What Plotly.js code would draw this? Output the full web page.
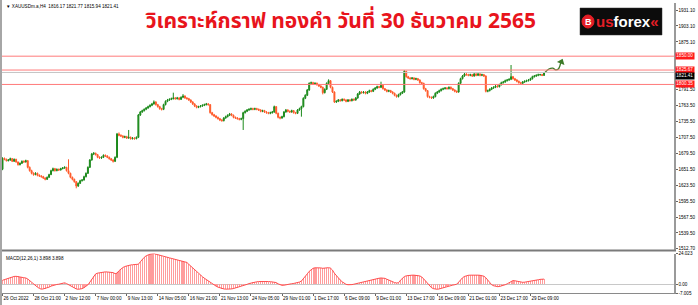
<!DOCTYPE html>
<html>
<head>
<meta charset="utf-8">
<script src="https://cdn.plot.ly/plotly-3.0.1.min.js"></script>
<style>
html,body{margin:0;padding:0;background:#fff;}
#chart{width:698px;height:305px;}
</style>
</head>
<body>
<div id="chart"></div>
<script>
// ---------- DATA ----------
const open = [
1651.3,1670.6,1668.9,1666.5,1667.7,1670.0,1665.4,1668.9,1664.2,1659.5,
1661.9,1665.4,1664.2,1666.5,1654.8,1649.0,1644.3,1642.0,1644.3,1640.8,
1639.6,1638.4,1636.1,1633.8,1637.3,1642.0,1649.0,1652.5,1649.0,1651.3,
1650.1,1652.5,1653.7,1654.8,1649.0,1644.3,1637.3,1633.8,1629.7,1622.0,
1626.7,1631.4,1632.6,1638.4,1644.3,1654.8,1667.7,1678.2,1679.4,1677.1,
1672.4,1671.2,1672.4,1675.9,1674.7,1672.4,1670.0,1667.7,1665.4,1672.4,
1713.4,1711.0,1709.9,1707.5,1708.7,1706.3,1707.5,1705.2,1706.3,1705.2,
1707.5,1746.7,1752.0,1754.3,1756.7,1759.0,1761.4,1763.7,1766.1,1769.6,
1764.9,1761.4,1757.9,1756.7,1764.9,1770.7,1773.1,1774.2,1775.4,1776.6,
1775.4,1776.6,1774.2,1777.8,1780.1,1776.6,1775.4,1773.1,1769.6,1766.1,
1762.5,1760.2,1761.4,1762.5,1763.7,1764.9,1766.1,1764.9,1750.8,1747.3,
1745.0,1742.6,1740.3,1737.9,1736.8,1741.5,1743.8,1746.2,1748.5,1746.2,
1742.6,1741.5,1740.3,1739.1,1740.3,1750.8,1753.2,1755.5,1756.7,1757.9,
1756.7,1757.9,1756.7,1755.5,1753.2,1754.3,1752.0,1750.8,1749.7,1750.8,
1752.0,1761.4,1749.7,1742.6,1741.5,1743.8,1752.0,1755.5,1753.2,1752.0,
1754.3,1750.8,1749.7,1755.5,1757.9,1761.4,1776.0,1781.3,1790.6,1802.3,
1803.5,1801.2,1802.3,1800.0,1797.6,1795.3,1785.9,1791.8,1802.3,1807.0,
1795.3,1787.1,1769.6,1770.7,1773.1,1771.9,1774.2,1773.1,1770.7,1773.1,
1771.9,1774.2,1773.1,1776.6,1783.6,1787.1,1785.9,1787.1,1784.8,1787.1,
1789.5,1788.3,1791.8,1794.1,1796.5,1795.3,1798.8,1793.0,1790.6,1788.3,
1789.5,1787.1,1784.8,1781.3,1779.0,1782.4,1784.8,1787.1,1823.4,1814.0,
1811.7,1810.5,1811.7,1809.4,1810.5,1808.2,1803.5,1802.3,1793.0,1789.5,
1779.0,1777.8,1776.6,1779.0,1784.8,1787.1,1789.5,1791.8,1793.0,1794.1,
1793.0,1795.3,1793.0,1790.6,1788.3,1787.1,1802.3,1810.5,1815.2,1818.7,
1817.5,1816.4,1817.5,1815.2,1818.7,1816.4,1818.7,1816.4,1817.5,1815.2,
1788.3,1789.5,1791.8,1794.1,1795.3,1797.6,1796.5,1800.0,1803.5,1804.7,
1807.0,1808.2,1809.4,1814.0,1810.5,1808.2,1805.9,1803.5,1802.3,1804.7,
1805.9,1807.0,1808.2,1810.5,1814.0,1815.2,1816.4,1817.5,1817.8,1816.17
];
const high = [
1672.4,1672.0,1670.1,1669.4,1671.8,1671.2,1670.3,1669.8,1665.1,1663.4,
1666.9,1667.0,1668.2,1667.4,1656.3,1650.6,1645.9,1646.2,1645.5,1642.4,
1641.0,1639.8,1637.2,1638.7,1643.5,1650.6,1654.3,1653.8,1652.9,1652.6,
1654.0,1655.3,1656.6,1655.7,1668.9,1645.4,1638.5,1635.0,1630.8,1628.3,
1632.9,1634.2,1640.1,1645.8,1656.4,1669.3,1680.1,1681.6,1680.7,1678.3,
1674.1,1674.0,1677.5,1677.4,1676.0,1673.6,1671.2,1668.9,1674.0,1715.2,
1716.1,1712.8,1711.2,1710.4,1710.1,1720.4,1708.9,1707.9,1707.6,1709.1,
1748.5,1753.8,1756.0,1758.3,1760.8,1763.1,1765.5,1767.9,1772.3,1770.8,
1766.2,1762.8,1759.3,1766.5,1772.4,1774.9,1776.0,1777.3,1785.9,1778.2,
1778.5,1777.9,1779.5,1783.4,1781.2,1778.1,1776.8,1774.2,1770.9,1767.4,
1763.8,1763.0,1764.2,1765.4,1766.6,1767.9,1767.6,1765.8,1752.2,1748.7,
1746.3,1743.9,1741.6,1739.4,1743.0,1745.6,1747.9,1750.3,1749.8,1747.4,
1744.0,1742.9,1741.7,1742.0,1752.4,1755.0,1757.2,1758.5,1759.7,1759.4,
1759.6,1759.3,1758.0,1756.8,1756.0,1755.7,1753.4,1752.2,1752.5,1753.8,
1763.2,1762.3,1750.9,1744.1,1745.4,1753.7,1757.3,1756.8,1754.6,1756.0,
1755.5,1752.2,1757.1,1759.6,1763.0,1777.8,1783.1,1792.4,1804.0,1805.4,
1805.0,1804.1,1803.8,1801.4,1799.0,1796.5,1793.4,1804.0,1809.4,1808.1,
1796.6,1788.2,1772.5,1774.8,1774.6,1775.9,1775.8,1774.3,1774.8,1774.5,
1775.9,1775.7,1778.2,1785.3,1788.9,1788.6,1788.8,1788.3,1788.7,1791.2,
1790.9,1793.5,1795.8,1798.2,1797.9,1805.2,1799.9,1794.2,1791.9,1791.2,
1790.8,1788.4,1786.0,1782.6,1784.1,1786.5,1788.9,1825.3,1824.2,1815.4,
1813.1,1813.4,1813.0,1812.2,1811.8,1809.3,1805.0,1803.4,1794.3,1790.6,
1780.5,1779.3,1780.7,1786.5,1788.9,1791.2,1793.5,1794.8,1795.9,1795.7,
1797.0,1796.8,1794.3,1791.9,1789.8,1804.1,1812.2,1817.0,1820.5,1820.2,
1819.0,1819.2,1818.9,1820.4,1820.1,1820.5,1820.0,1819.2,1818.8,1816.3,
1791.3,1793.5,1795.9,1797.1,1799.3,1799.1,1801.7,1805.2,1806.5,1808.8,
1810.0,1811.2,1834.5,1815.3,1811.9,1809.6,1807.2,1805.0,1806.4,1807.6,
1808.8,1810.0,1812.2,1815.7,1817.0,1818.1,1819.3,1819.0,1818.9,1821.77
];
const low = [
1649.8,1667.2,1665.0,1665.2,1666.4,1664.1,1664.6,1662.9,1657.8,1658.2,
1660.8,1662.7,1663.1,1653.0,1647.2,1642.5,1640.1,1640.9,1639.0,1637.9,
1636.7,1634.4,1632.0,1632.6,1636.1,1641.2,1647.6,1647.3,1647.9,1648.5,
1649.2,1651.4,1652.3,1647.4,1642.6,1635.6,1631.9,1627.8,1618.0,1620.4,
1625.5,1629.8,1631.5,1637.0,1643.1,1653.6,1666.5,1676.3,1675.5,1670.8,
1669.5,1669.6,1671.1,1673.0,1670.9,1668.3,1666.0,1663.2,1664.1,1671.0,
1709.3,1708.1,1705.8,1706.0,1704.6,1705.0,1703.5,1703.7,1703.4,1704.0,
1706.2,1745.1,1750.6,1752.9,1755.2,1757.6,1760.0,1762.2,1765.0,1763.2,
1759.7,1756.0,1754.6,1755.3,1763.6,1769.2,1771.5,1772.8,1773.9,1773.6,
1773.9,1772.5,1773.0,1776.3,1775.0,1773.7,1771.4,1767.8,1764.3,1760.6,
1758.4,1758.7,1760.0,1761.1,1762.3,1763.5,1763.2,1749.0,1745.6,1743.1,
1740.8,1738.5,1736.0,1734.9,1735.4,1740.1,1742.5,1744.8,1744.6,1740.9,
1739.8,1738.6,1737.2,1737.6,1720.4,1749.3,1751.8,1754.0,1755.1,1755.0,
1755.2,1755.0,1753.8,1751.5,1751.6,1750.3,1749.0,1748.0,1748.1,1749.2,
1750.6,1748.0,1740.8,1739.1,1740.0,1742.5,1750.6,1751.4,1750.3,1750.7,
1749.1,1748.0,1748.4,1754.2,1743.8,1760.1,1774.6,1780.0,1789.2,1800.6,
1799.5,1799.8,1798.3,1796.0,1793.7,1782.9,1784.6,1790.5,1801.0,1793.6,
1785.3,1767.8,1767.9,1769.3,1770.2,1770.6,1771.4,1769.0,1769.4,1770.3,
1770.5,1771.5,1771.8,1775.3,1782.2,1784.2,1784.4,1783.0,1783.4,1785.8,
1786.6,1787.0,1790.4,1792.8,1793.6,1794.0,1791.3,1788.9,1786.5,1786.8,
1785.4,1783.0,1779.6,1777.2,1777.6,1781.0,1783.5,1785.8,1812.3,1810.0,
1808.8,1809.1,1807.7,1807.9,1806.5,1801.8,1800.6,1791.2,1787.7,1777.1,
1776.0,1774.8,1775.2,1777.7,1783.4,1785.8,1788.1,1790.3,1791.5,1791.3,
1791.6,1791.2,1788.9,1786.5,1785.3,1785.9,1801.0,1809.1,1813.9,1815.8,
1814.7,1814.8,1813.5,1813.9,1814.7,1815.0,1814.6,1814.9,1813.5,1786.4,
1786.6,1788.1,1790.4,1792.6,1793.9,1794.8,1795.1,1798.6,1802.0,1803.3,
1805.5,1806.7,1808.0,1808.8,1806.4,1804.1,1801.8,1800.6,1801.0,1803.2,
1804.4,1805.6,1806.9,1809.0,1812.5,1813.7,1814.8,1815.6,1815.0,1815.94
];
const close = [
1670.6,1668.9,1666.5,1667.7,1670.0,1665.4,1668.9,1664.2,1659.5,1661.9,
1665.4,1664.2,1666.5,1654.8,1649.0,1644.3,1642.0,1644.3,1640.8,1639.6,
1638.4,1636.1,1633.8,1637.3,1642.0,1649.0,1652.5,1649.0,1651.3,1650.1,
1652.5,1653.7,1654.8,1649.0,1644.3,1637.3,1633.8,1629.7,1622.0,1626.7,
1631.4,1632.6,1638.4,1644.3,1654.8,1667.7,1678.2,1679.4,1677.1,1672.4,
1671.2,1672.4,1675.9,1674.7,1672.4,1670.0,1667.7,1665.4,1672.4,1713.4,
1711.0,1709.9,1707.5,1708.7,1706.3,1707.5,1705.2,1706.3,1705.2,1707.5,
1746.7,1752.0,1754.3,1756.7,1759.0,1761.4,1763.7,1766.1,1769.6,1764.9,
1761.4,1757.9,1756.7,1764.9,1770.7,1773.1,1774.2,1775.4,1776.6,1775.4,
1776.6,1774.2,1777.8,1780.1,1776.6,1775.4,1773.1,1769.6,1766.1,1762.5,
1760.2,1761.4,1762.5,1763.7,1764.9,1766.1,1764.9,1750.8,1747.3,1745.0,
1742.6,1740.3,1737.9,1736.8,1741.5,1743.8,1746.2,1748.5,1746.2,1742.6,
1741.5,1740.3,1739.1,1740.3,1750.8,1753.2,1755.5,1756.7,1757.9,1756.7,
1757.9,1756.7,1755.5,1753.2,1754.3,1752.0,1750.8,1749.7,1750.8,1752.0,
1761.4,1749.7,1742.6,1741.5,1743.8,1752.0,1755.5,1753.2,1752.0,1754.3,
1750.8,1749.7,1755.5,1757.9,1761.4,1776.0,1781.3,1790.6,1802.3,1803.5,
1801.2,1802.3,1800.0,1797.6,1795.3,1785.9,1791.8,1802.3,1807.0,1795.3,
1787.1,1769.6,1770.7,1773.1,1771.9,1774.2,1773.1,1770.7,1773.1,1771.9,
1774.2,1773.1,1776.6,1783.6,1787.1,1785.9,1787.1,1784.8,1787.1,1789.5,
1788.3,1791.8,1794.1,1796.5,1795.3,1798.8,1793.0,1790.6,1788.3,1789.5,
1787.1,1784.8,1781.3,1779.0,1782.4,1784.8,1787.1,1823.4,1814.0,1811.7,
1810.5,1811.7,1809.4,1810.5,1808.2,1803.5,1802.3,1793.0,1789.5,1779.0,
1777.8,1776.6,1779.0,1784.8,1787.1,1789.5,1791.8,1793.0,1794.1,1793.0,
1795.3,1793.0,1790.6,1788.3,1787.1,1802.3,1810.5,1815.2,1818.7,1817.5,
1816.4,1817.5,1815.2,1818.7,1816.4,1818.7,1816.4,1817.5,1815.2,1788.3,
1789.5,1791.8,1794.1,1795.3,1797.6,1796.5,1800.0,1803.5,1804.7,1807.0,
1808.2,1809.4,1814.0,1810.5,1808.2,1805.9,1803.5,1802.3,1804.7,1805.9,
1807.0,1808.2,1810.5,1814.0,1815.2,1816.4,1817.5,1817.8,1816.17,1821.41
];
const macd = [
3.0,3.6,4.2,4.8,5.3,5.8,6.0,6.1,6.0,5.6,
5.3,5.0,4.8,4.0,2.6,1.2,0.0,-1.2,-2.4,-3.4,
-4.0,-3.8,-3.5,-3.0,-2.4,-1.6,-1.0,-0.6,-0.3,-0.1,
0.3,0.8,1.0,0.4,-0.5,-1.4,-2.4,-3.2,-3.8,-4.1,
-4.0,-3.6,-2.8,-1.8,-0.6,1.5,4.0,6.5,8.0,8.6,
9.0,9.3,9.5,9.6,9.5,9.4,9.3,9.0,8.2,8.6,
10.5,12.0,13.0,13.8,14.4,14.8,15.0,15.2,15.3,15.2,
15.6,17.5,19.5,21.0,22.2,23.0,23.5,23.8,24.0,23.5,
23.0,22.5,22.0,21.5,21.2,21.0,20.6,20.2,19.8,19.4,
19.0,18.6,18.3,18.0,17.6,17.0,15.5,14.0,12.5,11.0,
9.5,8.3,7.0,5.8,4.6,3.5,2.4,1.2,0.0,-0.8,
-1.6,-2.4,-3.0,-3.5,-3.8,-4.0,-4.1,-4.0,-3.8,-3.5,
-3.1,-2.7,-2.3,-1.8,-1.3,-0.7,-0.2,0.4,0.9,1.3,
1.6,1.8,2.0,2.1,2.1,2.0,2.1,2.0,1.9,1.7,
1.9,1.2,0.2,-0.6,-1.0,-0.9,-0.5,0.0,0.2,0.3,
0.5,0.7,1.0,1.6,2.4,4.0,6.0,8.0,10.0,11.5,
12.4,12.8,12.9,13.0,12.7,12.4,12.6,12.8,12.9,12.5,
11.0,8.5,6.5,4.8,3.2,1.8,0.6,-0.2,-0.5,-0.6,
-0.4,-0.1,0.3,0.7,1.1,1.5,1.9,2.3,2.7,3.0,
3.4,3.8,4.1,4.4,4.6,4.8,4.8,4.5,3.8,3.0,
2.3,1.7,1.2,0.9,1.0,3.0,4.8,5.9,6.5,6.8,
7.0,7.0,7.0,6.9,6.8,6.4,5.6,4.2,2.4,0.6,
-1.4,-2.8,-3.6,-4.0,-4.1,-3.8,-3.3,-2.8,-2.3,-1.8,
-1.4,-1.1,-0.8,-0.5,-0.1,1.5,3.5,5.0,6.0,6.6,
6.9,7.0,7.1,7.1,7.0,7.0,6.9,6.8,6.2,5.0,
3.0,1.0,-0.5,-1.3,-1.8,-2.0,-1.9,-1.6,-1.1,-0.5,
0.2,1.2,2.4,2.8,2.6,2.2,1.8,1.5,1.4,1.5,
1.7,1.9,2.1,2.4,2.8,3.1,3.4,3.7,3.9,3.898
];
const xTickIdx = [0,16,32,48,64,80,96,112,128,144,160,176,192,208,224,240,256,272];
const xTickText = ["26 Oct 2022","28 Oct 21:00","2 Nov 12:00","7 Nov 00:00","9 Nov 13:00","14 Nov 05:00",
  "16 Nov 21:00","21 Nov 13:00","24 Nov 05:00","29 Nov 01:00","1 Dec 17:00","6 Dec 09:00",
  "9 Dec 01:00","13 Dec 17:00","16 Dec 09:00","21 Dec 01:00","23 Dec 17:00","29 Dec 09:00"];
const yTickVals = [1931.10,1903.10,1875.10,1791.50,1763.50,1735.50,1707.50,1679.50,1651.50,1623.50,1595.50,1567.50,1539.50,1512.70];
const yTickText = ["1931.10","1903.10","1875.10","1791.50","1763.50","1735.50","1707.50","1679.50","1651.50","1623.50","1595.50","1567.50","1539.50","1512.70"];
const macdTickVals = [24.023, 0, -7.005];
const macdTickText = ["24.023","0.00","-7.005"];
const levels = [1850.00, 1825.67, 1800.35];
const levelText = ["1850.00","1825.67","1800.35"];
const lastPrice = 1821.41;
// projected arrow path (bar index, price)
const arrowX = [279.5, 281.5, 283.5, 285, 286.5, 287.6];
const arrowY = [1821.5, 1827.5, 1829.0, 1826.0, 1828.0, 1838.5];
const headerText = "▼ XAUUSDm.a,H4  1816.17 1821.77 1815.94 1821.41";
const macdText = "MACD(12,26,1) 3.898 3.898";
const titleText = "วิเคราะห์กราฟ ทองคำ วันที่ 30 ธันวาคม 2565";

// ---------- GEOMETRY ----------
const W = 698, H = 305;
const px = v => v / W;            // x pixel -> paper
const py = v => (H - v) / H;      // y pixel -> paper
const idx = close.map((_, i) => i);
const smallFont = {family: 'Liberation Sans, Arial, sans-serif', size: 4.6, color: '#000'};

const traces = [
  {
    type: 'candlestick', x: idx, open: open, high: high, low: low, close: close,
    xaxis: 'x', yaxis: 'y', whiskerwidth: 0,
    increasing: {line: {color: '#1c8a1c', width: 1}, fillcolor: '#1c8a1c'},
    decreasing: {line: {color: '#ff5a2a', width: 1}, fillcolor: '#ff5a2a'},
    hoverinfo: 'skip', showlegend: false
  },
  {
    type: 'bar', x: idx, y: macd, xaxis: 'x', yaxis: 'y2', width: 0.55,
    marker: {color: '#ff9c9c', line: {width: 0}}, hoverinfo: 'skip', showlegend: false
  },
  {
    type: 'scatter', mode: 'lines', x: idx, y: macd, xaxis: 'x', yaxis: 'y2',
    line: {color: '#ff5050', width: 1}, hoverinfo: 'skip', showlegend: false
  },
  {
    type: 'scatter', mode: 'lines', x: arrowX, y: arrowY, xaxis: 'x', yaxis: 'y',
    line: {color: '#3d7a28', width: 1.3, shape: 'spline'}, hoverinfo: 'skip', showlegend: false
  },
  {
    type: 'scatter', mode: 'markers', x: [arrowX[5] + 0.3], y: [arrowY[5] + 1.5], xaxis: 'x', yaxis: 'y',
    marker: {symbol: 'triangle-up', size: 7, angle: 22, color: '#3d7a28', line: {width: 0}},
    hoverinfo: 'skip', showlegend: false
  }
];

const xDom = [px(2), px(674)];
const shapes = [];
const annotations = [];

levels.forEach((lv, k) => {
  shapes.push({type: 'line', xref: 'paper', yref: 'y', x0: xDom[0], x1: xDom[1], y0: lv, y1: lv,
    line: {color: '#ff7a7a', width: 1}});
  annotations.push({xref: 'paper', yref: 'y', x: px(675), y: lv, xanchor: 'left', yanchor: 'middle',
    text: levelText[k], showarrow: false, font: {family: smallFont.family, size: 4.6, color: '#fff'},
    bgcolor: '#ff1a1a', borderpad: 0.3});
});
shapes.push({type: 'line', xref: 'paper', yref: 'y', x0: xDom[0], x1: xDom[1], y0: lastPrice, y1: lastPrice,
  line: {color: '#c4c4c4', width: 1}});
annotations.push({xref: 'paper', yref: 'y', x: px(675), y: lastPrice, xanchor: 'left', yanchor: 'top',
  text: lastPrice.toFixed(2), showarrow: false, font: {family: smallFont.family, size: 4.6, color: '#fff'},
  bgcolor: '#000', borderpad: 0.3});

// frame: left border, separator between panes
shapes.push({type: 'rect', xref: 'paper', yref: 'paper', x0: 0, x1: px(2), y0: 0, y1: 1,
  fillcolor: '#a6a6a6', line: {width: 0}});
shapes.push({type: 'line', xref: 'paper', yref: 'paper', x0: px(2), x1: px(676), y0: py(250.6), y1: py(250.6),
  line: {color: '#7a7a7a', width: 2}});

// header texts
annotations.push({xref: 'paper', yref: 'paper', x: px(4), y: py(2), xanchor: 'left', yanchor: 'top',
  text: headerText, showarrow: false, font: smallFont});
annotations.push({xref: 'paper', yref: 'paper', x: px(4), y: py(253.5), xanchor: 'left', yanchor: 'top',
  text: macdText, showarrow: false, font: smallFont});

// title
annotations.push({xref: 'paper', yref: 'paper', x: px(340), y: py(22), xanchor: 'center', yanchor: 'middle',
  text: '<b>' + titleText + '</b>', showarrow: false,
  font: {family: 'Noto Sans Thai, Noto Sans, DejaVu Sans, sans-serif', size: 21, color: '#e8141c'}});

// logo
shapes.push({type: 'rect', xref: 'paper', yref: 'paper', x0: px(580), x1: px(662), y0: py(35), y1: py(8),
  fillcolor: '#0c0c0c', line: {color: '#333', width: 0.5}});
shapes.push({type: 'circle', xref: 'paper', yref: 'paper', x0: px(582), x1: px(594), y0: py(28), y1: py(15),
  fillcolor: '#e41e26', line: {color: '#e41e26', width: 1}});
annotations.push({xref: 'paper', yref: 'paper', x: px(588), y: py(21.5), xanchor: 'center', yanchor: 'middle',
  text: '<b>B</b>', showarrow: false, font: {family: 'Liberation Sans, Arial', size: 9, color: '#fff'}});
annotations.push({xref: 'paper', yref: 'paper', x: px(594), y: py(21.5), xanchor: 'left', yanchor: 'middle',
  text: '<b><span style="color:#e41e26">us</span>forex<span style="color:#e41e26">«</span></b>', showarrow: false,
  font: {family: 'Liberation Sans, Arial', size: 15, color: '#ffffff'}});

const layout = {
  width: W, height: H,
  margin: {l: 0, r: 0, t: 0, b: 0},
  paper_bgcolor: '#ffffff', plot_bgcolor: '#ffffff',
  showlegend: false, bargap: 0,
  xaxis: {
    domain: xDom, range: [-0.26, 345.95], anchor: 'y2',
    tickmode: 'array', tickvals: xTickIdx, ticktext: xTickText,
    tickangle: 0, ticklabelposition: 'outside right', automargin: false,
    ticks: 'outside', ticklen: 2, tickwidth: 1, tickcolor: '#666',
    tickfont: smallFont, showgrid: false, zeroline: false,
    showline: true, linecolor: '#8a8a8a', linewidth: 1,
    rangeslider: {visible: false}, fixedrange: true
  },
  yaxis: {
    domain: [py(249.5), py(3)], range: [1510.5, 1943.4], anchor: 'x', side: 'right',
    tickmode: 'array', tickvals: yTickVals, ticktext: yTickText, automargin: false,
    ticks: 'outside', ticklen: 2, tickcolor: '#666', tickfont: smallFont,
    showgrid: false, zeroline: false, showline: true, linecolor: '#9a9a9a', linewidth: 1.5,
    fixedrange: true
  },
  yaxis2: {
    domain: [py(293), py(253.5)], range: [-7.005, 24.023], anchor: 'x', side: 'right',
    tickmode: 'array', tickvals: macdTickVals, ticktext: macdTickText, automargin: false,
    ticks: 'outside', ticklen: 2, tickcolor: '#666', tickfont: smallFont,
    showgrid: false, zeroline: true, zerolinecolor: '#c8c8c8', zerolinewidth: 1,
    showline: true, linecolor: '#9a9a9a', linewidth: 1.5, fixedrange: true
  },
  shapes: shapes,
  annotations: annotations
};

Plotly.newPlot('chart', traces, layout, {staticPlot: true, displayModeBar: false});
</script>
</body>
</html>
